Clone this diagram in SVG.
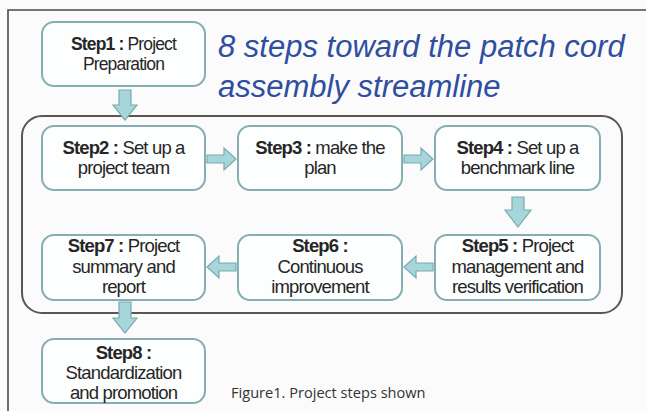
<svg xmlns="http://www.w3.org/2000/svg" width="646" height="411" viewBox="0 0 646 411">
<defs>
<style>
.box{fill:#fdfefe;stroke:#86aeb2;stroke-width:2}
.arr{fill:#a6d6da;stroke:#78aab0;stroke-width:1.2}
.t{font-family:"Liberation Sans",Arial,sans-serif;font-size:18.5px;fill:#262626;text-anchor:middle;letter-spacing:-0.85px}
.t1{font-size:17.5px}
.b{font-weight:bold}
.title{font-family:"Liberation Sans",Arial,sans-serif;font-style:italic;font-size:31px;fill:#2f4ea0}
.cap{font-family:"Open Sans","DejaVu Sans",sans-serif;font-size:14.6px;fill:#333}
</style>
</defs>
<rect x="0" y="0" width="646" height="411" fill="#fbfbfb"/>
<path d="M8,411 V10 H646" fill="none" stroke="#4a4a4a" stroke-width="1.6"/>
<rect id="container" x="22" y="116" width="600" height="197" rx="20" fill="none" stroke="#5c5650" stroke-width="2"/>
<g id="title">
<text class="title" x="218" y="57">8 steps toward the patch cord</text>
<text class="title" x="218" y="97">assembly streamline</text>
</g>
<g id="step1">
<rect class="box" x="42" y="22" width="163" height="64" rx="12"/>
<text class="t t1" x="123.5" y="50"><tspan class="b">Step1 :</tspan> Project</text>
<text class="t t1" x="123.5" y="70">Preparation</text>
</g>
<g id="step2">
<rect class="box" x="42" y="126" width="163" height="64" rx="12"/>
<text class="t" x="123.5" y="154"><tspan class="b">Step2 :</tspan> Set up a</text>
<text class="t" x="123.5" y="174">project team</text>
</g>
<g id="step3">
<rect class="box" x="238" y="126" width="164" height="64" rx="12"/>
<text class="t" x="320" y="154"><tspan class="b">Step3 :</tspan> make the</text>
<text class="t" x="320" y="174">plan</text>
</g>
<g id="step4">
<rect class="box" x="435" y="126" width="165" height="64" rx="12"/>
<text class="t" x="517.5" y="154"><tspan class="b">Step4 :</tspan> Set up a</text>
<text class="t" x="517.5" y="174">benchmark line</text>
</g>
<g id="step5">
<rect class="box" x="435" y="235" width="165" height="65" rx="12"/>
<text class="t" x="517.5" y="252"><tspan class="b">Step5 :</tspan>  Project</text>
<text class="t" x="517.5" y="273">management and</text>
<text class="t" x="517.5" y="293">results verification</text>
</g>
<g id="step6">
<rect class="box" x="238" y="235" width="164" height="65" rx="12"/>
<text class="t b" x="320" y="252">Step6 :</text>
<text class="t" x="320" y="273">Continuous</text>
<text class="t" x="320" y="293">improvement</text>
</g>
<g id="step7">
<rect class="box" x="42" y="235" width="163" height="65" rx="12"/>
<text class="t" x="123.5" y="252"><tspan class="b">Step7 :</tspan> Project</text>
<text class="t" x="123.5" y="273">summary and</text>
<text class="t" x="123.5" y="293">report</text>
</g>
<g id="step8">
<rect class="box" x="42" y="339" width="163" height="64" rx="12"/>
<text class="t b" x="123.5" y="359">Step8 :</text>
<text class="t" x="123.5" y="379">Standardization</text>
<text class="t" x="123.5" y="399">and promotion</text>
</g>
<g id="connectors">
<path class="arr" d="M119,90 H131 V105 H137 L125,120 L113,105 H119 Z"/>
<path class="arr" d="M207,155 H224 V148 L236,159 L224,170 V163 H207 Z"/>
<path class="arr" d="M404,155 H421 V148 L433,159 L421,170 V163 H404 Z"/>
<path class="arr" d="M512,197 H524 V210 H531 L518,227 L505,210 H512 Z"/>
<path class="arr" d="M433,263 H416 V256 L404,267 L416,278 V271 H433 Z"/>
<path class="arr" d="M236,263 H219 V256 L207,267 L219,278 V271 H236 Z"/>
<path class="arr" d="M119,302 H131 V318 H137 L125,333 L113,318 H119 Z"/>
</g>
<text id="caption" class="cap" x="231" y="398">Figure1. Project steps shown</text>
</svg>
